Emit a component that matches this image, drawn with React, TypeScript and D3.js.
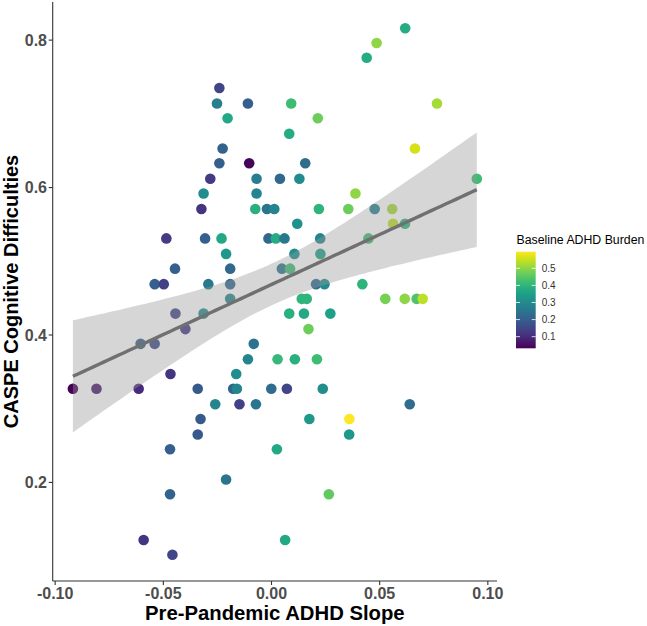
import React from 'react';
import * as d3 from 'd3';

// Pre-Pandemic ADHD Slope (x)
const slope = [
  0.0618,
  0.0486,
  0.0440,
  -0.0241,
  -0.0252, -0.0109, 0.0091, 0.0765,
  -0.0203, 0.0214,
  0.0082,
  -0.0226, 0.0663,
  -0.0241, -0.0103, 0.0156,
  -0.0283, -0.0069, 0.0039, 0.0129, 0.0949,
  -0.0314, -0.0069, 0.0388,
  -0.0324, -0.0075, -0.0021, 0.0013, 0.0219, 0.0355, 0.0477, 0.0558,
  0.0119, 0.0562, 0.0617,
  -0.0486, -0.0307, -0.0231, -0.0014, 0.0020, 0.0060, 0.0225, 0.0448,
  -0.0210, 0.0106, 0.0226,
  -0.0446, -0.0191, 0.0048, 0.0086,
  -0.0540, -0.0498, -0.0292, -0.0191, 0.0206, 0.0245, 0.0420,
  -0.0191, 0.0140, 0.0163, 0.0526, 0.0616, 0.0671, 0.0699,
  -0.0444, -0.0314, 0.0082, 0.0150, 0.0272,
  -0.0398, 0.0171,
  -0.0605, -0.0540, -0.0082,
  -0.0109, 0.0028, 0.0108, 0.0210,
  -0.0467, -0.0163,
  -0.0918, -0.0809, -0.0614, -0.0341, -0.0177, -0.0160, -0.0001, 0.0071, 0.0237,
  -0.0260, -0.0148, -0.0072, 0.0639,
  -0.0328, 0.0175, 0.0360,
  -0.0341, 0.0359,
  -0.0469, 0.0025,
  -0.0210,
  -0.0469, 0.0265,
  -0.0591, 0.0063,
  -0.0458,
];

// CASPE Cognitive Difficulties (y)
const caspe = [
  0.816,
  0.796,
  0.776,
  0.735,
  0.714, 0.714, 0.714, 0.714,
  0.694, 0.694,
  0.673,
  0.653, 0.653,
  0.633, 0.633, 0.633,
  0.612, 0.612, 0.612, 0.612, 0.612,
  0.592, 0.592, 0.592,
  0.571, 0.571, 0.571, 0.571, 0.571, 0.571, 0.571, 0.571,
  0.551, 0.551, 0.551,
  0.531, 0.531, 0.531, 0.531, 0.531, 0.531, 0.531, 0.531,
  0.510, 0.510, 0.510,
  0.490, 0.490, 0.490, 0.490,
  0.469, 0.469, 0.469, 0.469, 0.469, 0.469, 0.469,
  0.449, 0.449, 0.449, 0.449, 0.449, 0.449, 0.449,
  0.429, 0.429, 0.429, 0.429, 0.429,
  0.408, 0.408,
  0.388, 0.388, 0.388,
  0.367, 0.367, 0.367, 0.367,
  0.347, 0.347,
  0.327, 0.327, 0.327, 0.327, 0.327, 0.327, 0.327, 0.327, 0.327,
  0.306, 0.306, 0.306, 0.306,
  0.286, 0.286, 0.286,
  0.265, 0.265,
  0.245, 0.245,
  0.204,
  0.184, 0.184,
  0.122, 0.122,
  0.102,
];

// Baseline ADHD Burden (colour)
const burden = [
  0.38,
  0.50,
  0.38,
  0.15,
  0.27, 0.20, 0.42, 0.52,
  0.37, 0.47,
  0.38,
  0.21, 0.56,
  0.20, 0.04, 0.23,
  0.13, 0.27, 0.22, 0.30, 0.42,
  0.31, 0.29, 0.50,
  0.12, 0.39, 0.25, 0.29, 0.40, 0.47, 0.28, 0.52,
  0.32, 0.54, 0.40,
  0.13, 0.20, 0.37, 0.22, 0.38, 0.26, 0.29, 0.42,
  0.33, 0.31, 0.35,
  0.20, 0.22, 0.25, 0.42,
  0.20, 0.14, 0.26, 0.22, 0.23, 0.30, 0.40,
  0.29, 0.40, 0.40, 0.48, 0.50, 0.44, 0.54,
  0.15, 0.31, 0.39, 0.37, 0.35,
  0.13, 0.47,
  0.20, 0.16, 0.25,
  0.29, 0.41, 0.39, 0.42,
  0.12, 0.31,
  0.032, 0.07, 0.10, 0.19, 0.21, 0.29, 0.23, 0.15, 0.31,
  0.29, 0.14, 0.25, 0.23,
  0.19, 0.33, 0.597,
  0.19, 0.33,
  0.20, 0.37,
  0.25,
  0.21, 0.46,
  0.12, 0.37,
  0.15,
];

const xTicks = [-0.1, -0.05, 0, 0.05, 0.1];
const yTicks = [0.2, 0.4, 0.6, 0.8];
const legendTicks = [0.1, 0.2, 0.3, 0.4, 0.5];
const xTitle = 'Pre-Pandemic ADHD Slope';
const yTitle = 'CASPE Cognitive Difficulties';
const legendTitle = 'Baseline ADHD Burden';

const FONT = '"Liberation Sans", Arial, Helvetica, sans-serif';

export default function App() {
  const W = 647;
  const H = 626;
  const panel = { left: 52.7, right: 497, top: 2, bottom: 581 };

  const xExt = d3.extent(slope) as [number, number];
  const yExt = d3.extent(caspe) as [number, number];
  const dx = (xExt[1] - xExt[0]) * 0.05;
  const dy = (yExt[1] - yExt[0]) * 0.05;
  const x = d3.scaleLinear().domain([xExt[0] - dx, xExt[1] + dx]).range([panel.left, panel.right]);
  const y = d3.scaleLinear().domain([yExt[0] - dy, yExt[1] + dy]).range([panel.bottom, panel.top]);

  const bExt = d3.extent(burden) as [number, number];
  const color = d3.scaleSequential(d3.interpolateViridis).domain(bExt);

  // linear regression + 95% CI
  const n = slope.length;
  const mx = d3.mean(slope)!;
  const my = d3.mean(caspe)!;
  let sxx = 0, sxy = 0;
  for (let i = 0; i < n; i++) {
    sxx += (slope[i] - mx) ** 2;
    sxy += (slope[i] - mx) * (caspe[i] - my);
  }
  const b1 = sxy / sxx;
  const b0 = my - b1 * mx;
  let sse = 0;
  for (let i = 0; i < n; i++) sse += (caspe[i] - (b0 + b1 * slope[i])) ** 2;
  const s2 = sse / (n - 2);
  const tq = 1.983;
  const grid = d3.range(80).map((i) => xExt[0] + (i * (xExt[1] - xExt[0])) / 79);
  const band = grid.map((g) => {
    const fit = b0 + b1 * g;
    const se = Math.sqrt(s2 * (1 / n + (g - mx) ** 2 / sxx));
    return { g, fit, lo: fit - tq * se, hi: fit + tq * se };
  });
  const area = d3
    .area<{ g: number; lo: number; hi: number }>()
    .x((d) => x(d.g))
    .y0((d) => y(d.lo))
    .y1((d) => y(d.hi));
  const line = d3
    .line<{ g: number; fit: number }>()
    .x((d) => x(d.g))
    .y((d) => y(d.fit));

  // legend
  const leg = { x: 516, w: 19.7, top: 251.7, bottom: 348.3 };
  const ly = d3.scaleLinear().domain(bExt).range([leg.bottom, leg.top]);
  const stops = d3.range(0, 1.0001, 0.05);

  const idx = d3.range(n);

  return (
    <svg
      width={W}
      height={H}
      style={{ position: 'absolute', left: 0, top: 0, background: '#fff' }}
      fontFamily={FONT}
    >
      <defs>
        <linearGradient id="vir" x1="0" y1="1" x2="0" y2="0">
          {stops.map((s) => (
            <stop key={s} offset={s} stopColor={d3.interpolateViridis(s)} />
          ))}
        </linearGradient>
      </defs>
      <rect x={0} y={0} width={W} height={H} fill="#fff" />

      {/* points */}
      {idx.map((i) => (
        <circle key={i} cx={x(slope[i])} cy={y(caspe[i])} r={5.3} fill={color(burden[i])} />
      ))}

      {/* smooth */}
      <path d={area(band) || ''} fill="#999999" fillOpacity={0.4} />
      <path d={line(band) || ''} fill="none" stroke="#707070" strokeWidth={3.4} />

      {/* axes */}
      <line x1={panel.left} x2={panel.left} y1={panel.top} y2={panel.bottom} stroke="#333" strokeWidth={1.1} />
      <line x1={panel.left} x2={panel.right} y1={panel.bottom} y2={panel.bottom} stroke="#333" strokeWidth={1.1} />
      {xTicks.map((t) => (
        <g key={t}>
          <line x1={x(t)} x2={x(t)} y1={panel.bottom} y2={panel.bottom + 4} stroke="#333" strokeWidth={1.1} />
          <text x={x(t)} y={598.5} textAnchor="middle" fontSize={16} fontWeight="bold" fill="#4d4d4d">
            {t.toFixed(2)}
          </text>
        </g>
      ))}
      {yTicks.map((t) => (
        <g key={t}>
          <line x1={panel.left - 4} x2={panel.left} y1={y(t)} y2={y(t)} stroke="#333" strokeWidth={1.1} />
          <text x={47} y={y(t) + 5.6} textAnchor="end" fontSize={16} fontWeight="bold" fill="#4d4d4d">
            {t.toFixed(1)}
          </text>
        </g>
      ))}
      <text x={(panel.left + panel.right) / 2} y={620} textAnchor="middle" fontSize={20.3} fontWeight="bold" fill="#000">
        {xTitle}
      </text>
      <text
        transform={`translate(18,${(panel.top + panel.bottom) / 2}) rotate(-90)`}
        textAnchor="middle"
        fontSize={20}
        fontWeight="bold"
        fill="#000"
      >
        {yTitle}
      </text>

      {/* legend */}
      <text x={leg.x + 0.5} y={244} fontSize={12.3} fill="#000">
        {legendTitle}
      </text>
      <rect x={leg.x} y={leg.top} width={leg.w} height={leg.bottom - leg.top} fill="url(#vir)" />
      {legendTicks.map((t) => (
        <g key={t}>
          <line x1={leg.x} x2={leg.x + 4} y1={ly(t)} y2={ly(t)} stroke="#fff" strokeWidth={0.8} />
          <line x1={leg.x + leg.w - 4} x2={leg.x + leg.w} y1={ly(t)} y2={ly(t)} stroke="#fff" strokeWidth={0.8} />
          <text x={541.7} y={ly(t) + 3.6} fontSize={10} fill="#333">
            {t.toFixed(1)}
          </text>
        </g>
      ))}
    </svg>
  );
}
